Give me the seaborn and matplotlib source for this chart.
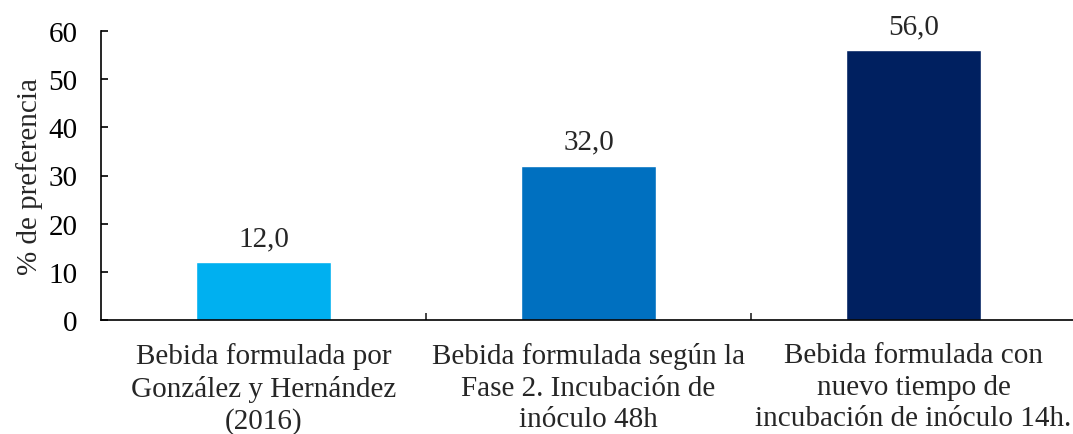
import matplotlib
matplotlib.use("Agg")
import matplotlib.pyplot as plt
import seaborn as sns
import pandas as pd
from matplotlib.ticker import FixedLocator

categories = [
    "Bebida formulada por\nGonzález y Hernández\n(2016)",
    "Bebida formulada según la\nFase 2. Incubación de\ninóculo 48h",
    "Bebida formulada con\nnuevo tiempo de\nincubación de inóculo 14h.",
]
values = [12.0, 32.0, 56.0]
colors = ["#00B0F0", "#0070C0", "#002060"]

df = pd.DataFrame({"cat": categories, "val": values})

sns.set_style("white")
plt.rcParams["font.family"] = ["Liberation Serif", "DejaVu Serif"]

fig = plt.figure(figsize=(10.73, 4.35), dpi=100)
ax = fig.add_axes([101 / 1073, 114 / 435, 975 / 1073, 289 / 435])
sns.barplot(data=df, x="cat", y="val", hue="cat", palette=colors,
            width=0.415, legend=False, ax=ax, saturation=1)

ax.set_ylim(0, 60)
ax.set_xlim(-0.5, 2.5)
ax.set_yticks(range(0, 61, 10))
ax.set_ylabel("% de preferencia", fontsize=21, labelpad=4)
ax.set_xlabel("")
ax.tick_params(axis="y", direction="in", length=5, width=1.2, labelsize=21,
               colors="black", pad=17, left=True)
ax.tick_params(axis="x", which="major", length=0, labelsize=21, pad=16)
ax.xaxis.set_minor_locator(FixedLocator([0.5, 1.5]))
ax.tick_params(axis="x", which="minor", direction="in", length=5, width=1.2,
               bottom=True)
for lab in ax.get_xticklabels():
    lab.set_linespacing(1.27)

for s in ["top", "right"]:
    ax.spines[s].set_visible(False)
for s in ["left", "bottom"]:
    ax.spines[s].set_color("black")
    ax.spines[s].set_linewidth(1.2)

for i, v in enumerate(values):
    ax.annotate(f"{v:.1f}".replace(".", ","), (i, v), xytext=(0, 8),
                textcoords="offset points", ha="center", va="bottom",
                fontsize=21)

fig.savefig("out.png", dpi=100)
